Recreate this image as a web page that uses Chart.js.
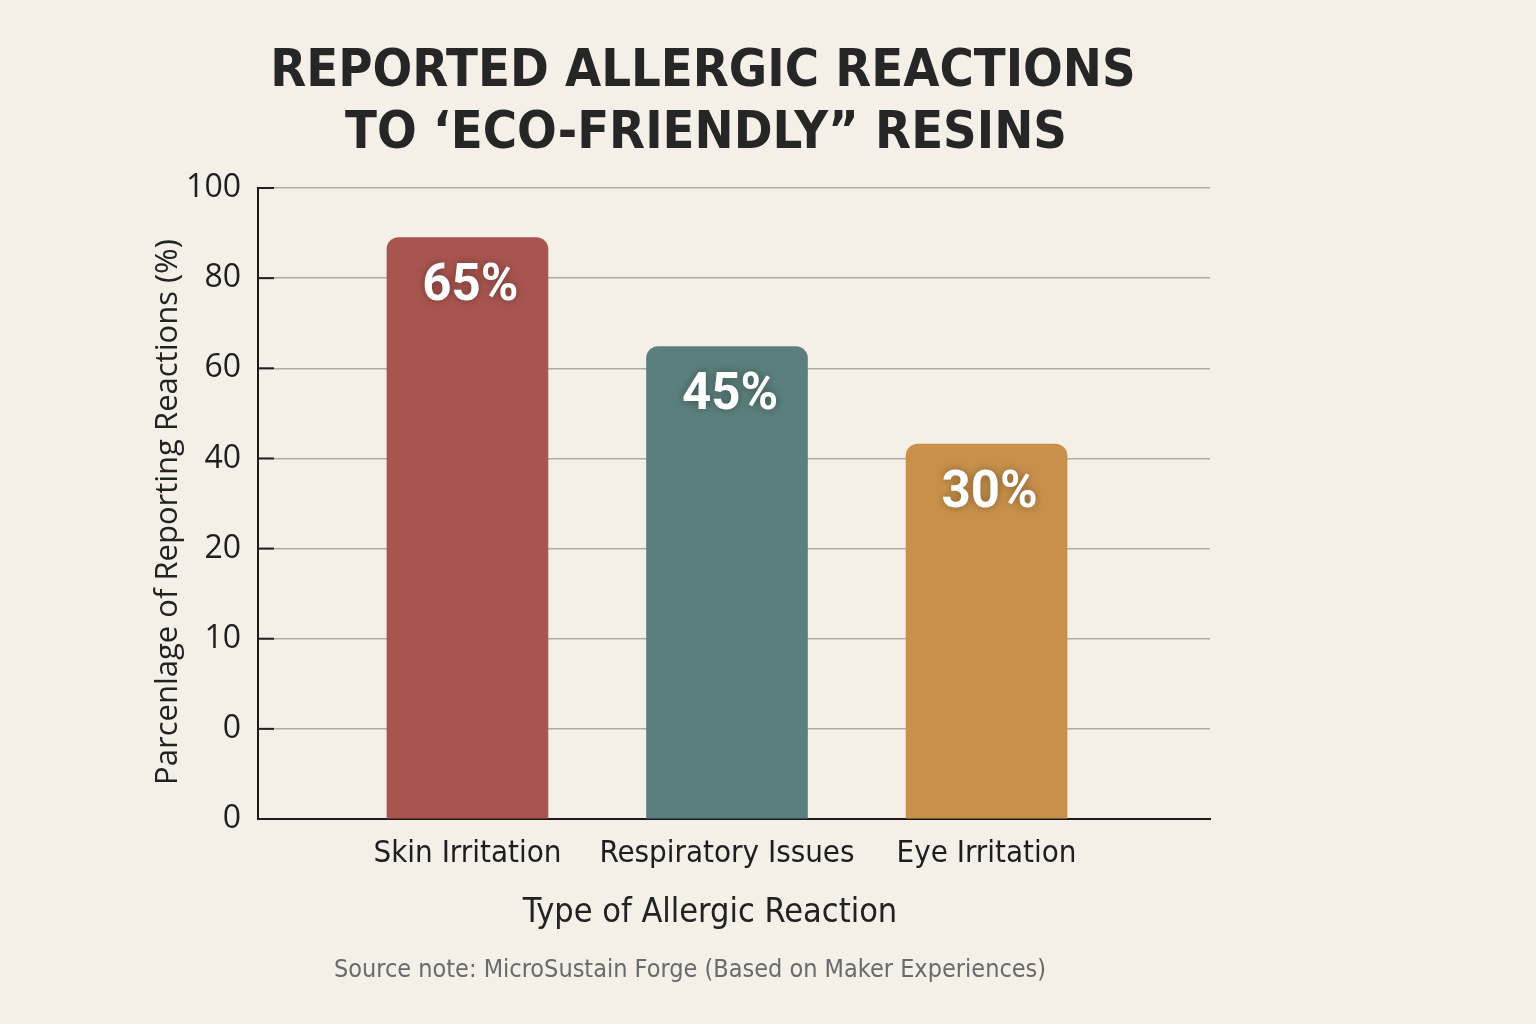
<!DOCTYPE html>
<html>
<head>
<meta charset="utf-8">
<title>Reported Allergic Reactions</title>
<script src="https://cdn.jsdelivr.net/npm/chart.js@4/dist/chart.umd.min.js"></script>
<style>
  html, body { margin: 0; padding: 0; background: #f4f0e8; }
  #wrap { width: 1536px; height: 1024px; position: relative; }
</style>
</head>
<body>
<div id="wrap"><canvas id="chart" width="1536" height="1024"></canvas></div>
<script>
// Data
const categories = ['Skin Irritation', 'Respiratory Issues', 'Eye Irritation'];
const valueLabels = ['65%', '45%', '30%'];
// the y axis has evenly spaced lines carrying these (odd) labels, bottom to top
const yTickLabels = ['0', '0', '10', '20', '40', '60', '80', '100'];
// bar heights in axis steps (10 units per gridline step)
const barHeights = [64.5, 52.4, 41.6];
const barColors = ['#a9554f', '#5b7f7c', '#c8904b'];

const NARROW = '"Liberation Sans Narrow", "DejaVu Sans Condensed", "Roboto Condensed", Roboto, sans-serif';
const ROUND = '"Open Sans", Lato, "DejaVu Sans", sans-serif';

const textPlugin = {
    id: 'texts',
    afterDraw(chart) {
        const ctx = chart.ctx;
        const area = chart.chartArea;
        ctx.save();
        ctx.textAlign = 'center';
        ctx.textBaseline = 'middle';

        // title
        ctx.fillStyle = '#262626';
        ctx.font = 'bold 52px ' + NARROW;
        ctx.fillText('REPORTED ALLERGIC REACTIONS', 703, 72);
        ctx.fillText('TO \u2018ECO-FRIENDLY\u201D RESINS', 706, 134);

        // y axis title
        ctx.save();
        ctx.translate(168, 512);
        ctx.rotate(-Math.PI / 2);
        ctx.fillStyle = '#222';
        ctx.font = '31px ' + ROUND;
        ctx.fillText('Parcenlage of Reporting Reactions (%)', 0, 0);
        ctx.restore();

        // x axis title + source note
        ctx.fillStyle = '#222';
        ctx.font = '34px ' + NARROW;
        ctx.fillText('Type of Allergic Reaction', 710, 913);
        ctx.fillStyle = '#6a6a6a';
        ctx.font = '25px ' + NARROW;
        ctx.fillText('Source note: MicroSustain Forge (Based on Maker Experiences)', 690, 970);

        // short dark tick marks inside the axis
        const y = chart.scales.y;
        ctx.strokeStyle = '#222';
        ctx.lineWidth = 2;
        y.ticks.forEach(t => {
            const py = y.getPixelForValue(t.value);
            if (py >= area.bottom - 1) return;
            ctx.beginPath();
            ctx.moveTo(area.left, py);
            ctx.lineTo(area.left + 16, py);
            ctx.stroke();
        });

        // value labels on bars
        const meta = chart.getDatasetMeta(0);
        ctx.fillStyle = '#ffffff';
        ctx.font = 'bold 51px Roboto, "Open Sans", sans-serif';
        ctx.shadowColor = 'rgba(0,0,0,0.35)';
        ctx.shadowBlur = 8;
        meta.data.forEach((bar, i) => {
            ctx.fillText(valueLabels[i], bar.x + 3, bar.y + 50);
        });
        ctx.restore();
    }
};

new Chart(document.getElementById('chart').getContext('2d'), {
    type: 'bar',
    data: {
        datasets: [{
            data: barHeights.map((h, i) => ({ x: i + 1, y: h })),
            backgroundColor: barColors,
            borderRadius: { topLeft: 12, topRight: 12 },
            borderSkipped: 'bottom',
            barThickness: 161
        }]
    },
    options: {
        responsive: false,
        animation: false,
        layout: { padding: { left: 0, right: 326, top: 188, bottom: 0 } },
        plugins: { legend: { display: false }, tooltip: { enabled: false } },
        scales: {
            x: {
                type: 'linear',
                offset: false,
                min: 0.193,
                max: 3.861,
                afterBuildTicks: s => { s.ticks = categories.map((c, i) => ({ value: i + 1 })); },
                afterFit: s => { s.height = 1024 - 819; },
                grid: { display: false },
                border: { color: '#1a1a1a', width: 2 },
                ticks: {
                    padding: 8,
                    color: '#1e1e1e',
                    font: { family: NARROW, size: 31 },
                    callback: v => categories[v - 1]
                }
            },
            y: {
                min: 0,
                max: 70,
                afterFit: s => { s.width = 258; },
                grid: { color: '#b0aba2', lineWidth: 1.5, drawTicks: false },
                border: { color: '#1a1a1a', width: 2 },
                ticks: {
                    stepSize: 10,
                    padding: 17,
                    color: '#1e1e1e',
                    font: { family: ROUND, size: 32 },
                    callback: v => yTickLabels[Math.round(v / 10)]
                }
            }
        }
    },
    plugins: [textPlugin]
});
</script>
</body>
</html>
